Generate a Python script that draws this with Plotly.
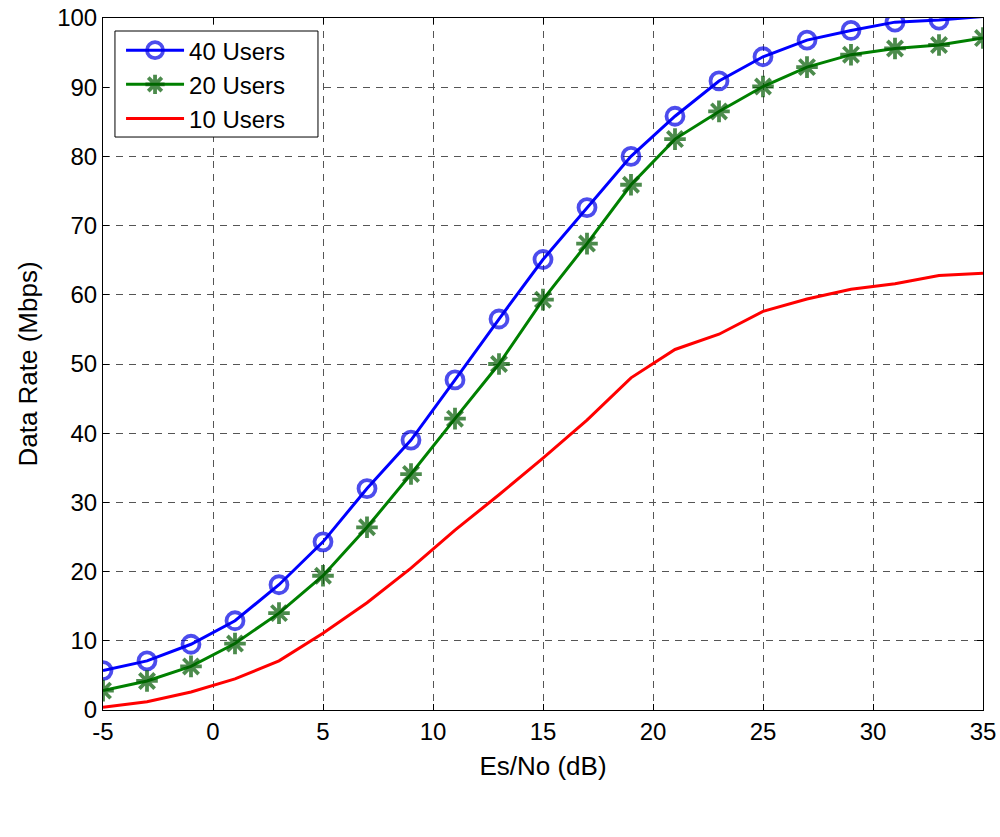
import plotly.graph_objects as go

# Es/No sweep (dB) and achieved data rate (Mbps) per user count
es_no = [-5, -3, -1, 1, 3, 5, 7, 9, 11, 13, 15, 17, 19, 21, 23, 25, 27, 29, 31, 33, 35]
rate_40 = [5.7, 7.1, 9.5, 12.9, 18.1, 24.3, 32.0, 39.0, 47.7, 56.5, 65.1, 72.6, 80.0,
           85.8, 90.9, 94.4, 96.8, 98.2, 99.4, 99.7, 100.2]
rate_20 = [2.8, 4.2, 6.3, 9.6, 14.0, 19.4, 26.4, 34.1, 42.1, 50.0, 59.3, 67.4, 75.9,
           82.5, 86.5, 90.1, 92.9, 94.7, 95.6, 96.1, 97.1]
rate_10 = [0.4, 1.2, 2.6, 4.5, 7.1, 11.1, 15.5, 20.5, 26.0, 31.1, 36.4, 41.9, 48.0,
           52.1, 54.3, 57.6, 59.4, 60.8, 61.6, 62.8, 63.1]

x_ticks = [-5, 0, 5, 10, 15, 20, 25, 30, 35]
y_ticks = [0, 10, 20, 30, 40, 50, 60, 70, 80, 90, 100]
y_max = 100

FONT = "Liberation Sans, Arial, sans-serif"


def visible_sizes(values, size):
    # markers whose centre falls outside the axes are not drawn
    return [size if v <= y_max else 0 for v in values]


fig = go.Figure()
fig.add_trace(go.Scatter(
    x=es_no, y=rate_40, name="40 Users", mode="lines+markers",
    line=dict(color="#0000FF", width=3),
    marker=dict(symbol="circle-open", size=visible_sizes(rate_40, 17),
                color="#0000E6", line=dict(width=3.8, color="#0000E6")),
))
fig.add_trace(go.Scatter(
    x=es_no, y=rate_20, name="20 Users", mode="lines+markers",
    line=dict(color="#008000", width=3),
    marker=dict(symbol="asterisk-open", size=visible_sizes(rate_20, 18),
                color="#005a00", line=dict(width=3.8, color="#005a00")),
))
fig.add_trace(go.Scatter(
    x=es_no, y=rate_10, name="10 Users", mode="lines",
    line=dict(color="#FF0000", width=3),
))

axis_common = dict(
    showline=True, linecolor="black", linewidth=1, mirror="ticks",
    ticks="inside", ticklen=6, tickcolor="black", tickwidth=1,
    showgrid=True, gridcolor="#555555", gridwidth=1, griddash="7px,6px",
    zeroline=False, automargin=False,
    tickfont=dict(family=FONT, size=24, color="black"),
    title_font=dict(family=FONT, size=26, color="black"),
)

fig.update_xaxes(
    range=[-5, 35], tickvals=x_ticks, ticktext=[str(t) for t in x_ticks],
    title_text="Es/No (dB)", title_standoff=13, **axis_common,
)
fig.update_yaxes(
    range=[0, y_max], tickvals=y_ticks, ticktext=[str(t) for t in y_ticks],
    title_text="Data Rate (Mbps)", title_standoff=12, **axis_common,
)

# legend frame, drawn over the curves; the legend entries sit on top of it
fig.add_shape(
    type="rect", xref="paper", yref="paper",
    x0=0.0136, x1=0.2443, y0=0.828, y1=0.9812,
    fillcolor="white", line=dict(color="black", width=1), layer="above",
)

fig.update_layout(
    width=1000, height=837,
    margin=dict(l=103, r=17, t=18, b=127),
    paper_bgcolor="white", plot_bgcolor="white",
    font=dict(family=FONT, size=24, color="black"),
    legend=dict(
        x=0.0205, y=0.9855, xanchor="left", yanchor="top",
        bgcolor="rgba(0,0,0,0)", borderwidth=0,
        font=dict(family=FONT, size=24, color="black"),
        tracegroupgap=0, itemwidth=58,
    ),
    showlegend=True,
)

fig.write_html("out.html")
